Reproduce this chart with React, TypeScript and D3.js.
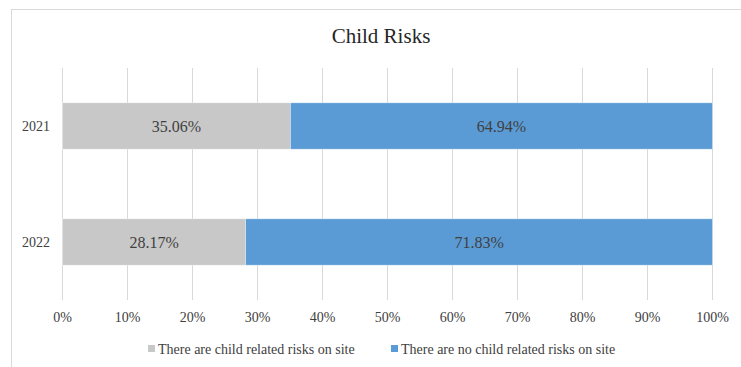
import * as d3 from 'd3';
import { useEffect, useRef } from 'react';

const years = ['2021', '2022'];
const withRisks = [35.06, 28.17];
const noRisks = [64.94, 71.83];
const seriesNames = ['There are child related risks on site', 'There are no child related risks on site'];
const seriesColors = ['#c8c8c8', '#5b9bd5'];
const tickValues = [0, 10, 20, 30, 40, 50, 60, 70, 80, 90, 100];

const App = (): React.ReactElement => {
  const ref: any = useRef();
  const width = 741;
  const height = 367;
  const font = '"Liberation Serif", "DejaVu Serif", serif';

  useEffect(() => {
    const svg = d3.select(ref.current).attr('width', width).attr('height', height);
    svg.selectAll('*').remove();

    // chart frame
    svg
      .append('rect')
      .attr('x', 11.5)
      .attr('y', 9.5)
      .attr('width', 760)
      .attr('height', 400)
      .attr('fill', '#fff')
      .attr('stroke', '#d9d9d9');

    svg
      .append('text')
      .attr('x', 381)
      .attr('y', 43)
      .attr('text-anchor', 'middle')
      .attr('font-family', font)
      .attr('font-size', 21)
      .attr('fill', '#262626')
      .text('Child Risks');

    const xScale = d3.scaleLinear().domain([0, 100]).range([62.5, 712.5]);
    const yScale = d3.scaleBand().domain(years).range([68, 300]).paddingInner(0.6).paddingOuter(0.3);

    // gridlines
    svg
      .append('g')
      .selectAll('line')
      .data(tickValues)
      .enter()
      .append('line')
      .attr('x1', (d) => xScale(d))
      .attr('x2', (d) => xScale(d))
      .attr('y1', 68)
      .attr('y2', 300)
      .attr('stroke', '#d9d9d9')
      .attr('stroke-width', 1);

    // x tick labels
    svg
      .append('g')
      .selectAll('text')
      .data(tickValues)
      .enter()
      .append('text')
      .attr('x', (d) => xScale(d))
      .attr('y', 322)
      .attr('text-anchor', 'middle')
      .attr('font-family', font)
      .attr('font-size', 14)
      .attr('fill', '#404040')
      .text((d) => d + '%');

    // y labels
    svg
      .append('g')
      .selectAll('text')
      .data(years)
      .enter()
      .append('text')
      .attr('x', 50)
      .attr('y', (d) => (yScale(d) ?? 0) + yScale.bandwidth() / 2 + 5)
      .attr('text-anchor', 'end')
      .attr('font-family', font)
      .attr('font-size', 14)
      .attr('fill', '#404040')
      .text((d) => d);

    const rows = years.map((y, i) => ({ year: y, a: withRisks[i], b: noRisks[i] }));
    const stacked = d3.stack<any>().keys(['a', 'b'])(rows);

    const groups = svg
      .append('g')
      .selectAll('g')
      .data(stacked)
      .enter()
      .append('g')
      .attr('fill', (_d, i) => seriesColors[i]);

    groups
      .selectAll('rect')
      .data((d) => d)
      .enter()
      .append('rect')
      .attr('x', (d) => xScale(d[0]))
      .attr('y', (d: any) => yScale(d.data.year) ?? 0)
      .attr('width', (d) => xScale(d[1]) - xScale(d[0]))
      .attr('height', yScale.bandwidth())
      .attr('stroke', '#fff')
      .attr('stroke-opacity', 0.5)
      .attr('stroke-width', 0.75);

    groups
      .selectAll('text')
      .data((d) => d)
      .enter()
      .append('text')
      .attr('x', (d) => (xScale(d[0]) + xScale(d[1])) / 2)
      .attr('y', (d: any) => (yScale(d.data.year) ?? 0) + yScale.bandwidth() / 2 + 5.5)
      .attr('text-anchor', 'middle')
      .attr('font-family', font)
      .attr('font-size', 16)
      .attr('fill', '#404040')
      .text((d) => (d[1] - d[0]).toFixed(2) + '%');

    // legend
    const legendX = [148, 391];
    const legend = svg
      .append('g')
      .selectAll('g')
      .data(seriesNames)
      .enter()
      .append('g')
      .attr('transform', (_d, i) => 'translate(' + legendX[i] + ',' + 349 + ')');

    legend
      .append('rect')
      .attr('x', 0)
      .attr('y', -4)
      .attr('width', 7)
      .attr('height', 7)
      .attr('fill', (_d, i) => seriesColors[i]);

    legend
      .append('text')
      .attr('x', 10)
      .attr('y', 4.5)
      .attr('font-family', font)
      .attr('font-size', 14)
      .attr('fill', '#404040')
      .text((d) => d);
  }, []);

  return <svg ref={ref} style={{ position: 'absolute', left: 0, top: 0 }} />;
};

export default App;
